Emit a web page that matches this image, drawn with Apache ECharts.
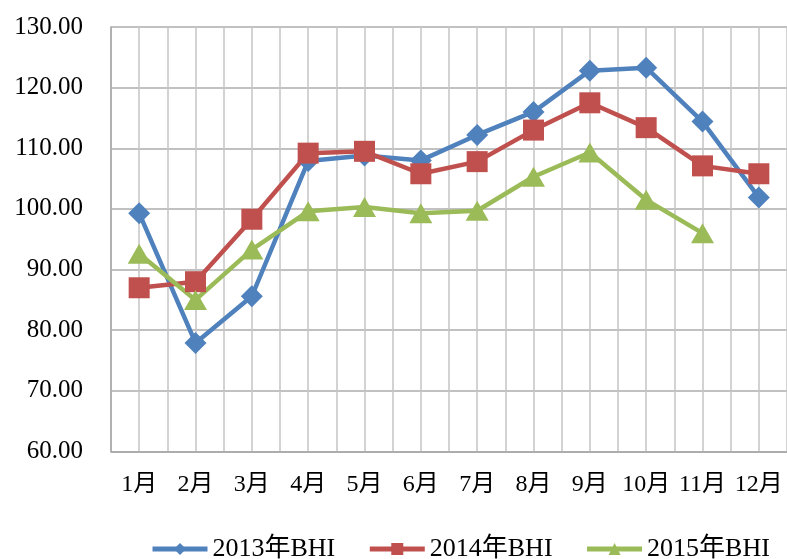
<!DOCTYPE html>
<html>
<head>
<meta charset="utf-8">
<script src="https://cdn.jsdelivr.net/npm/echarts@6/dist/echarts.min.js"></script>
<style>
  html, body { margin: 0; padding: 0; background: #fff; }
  #chart { width: 787px; height: 559px; }
</style>
</head>
<body>
<div id="chart"></div>
<script>
// 月份
const months = ['1月', '2月', '3月', '4月', '5月', '6月', '7月', '8月', '9月', '10月', '11月', '12月']
// 各年BHI指数
const bhi2013 = [99.3, 77.9, 85.6, 107.9, 108.8, 108.0, 112.2, 116.0, 122.8, 123.3, 114.4, 101.9]
const bhi2014 = [87.0, 88.0, 98.3, 109.2, 109.5, 105.8, 107.8, 113.0, 117.5, 113.4, 107.1, 105.8]
const bhi2015 = [92.6, 85.0, 93.3, 99.6, 100.3, 99.3, 99.7, 105.3, 109.3, 101.5, 96.0, null]
const seriesNames = ['2013年BHI', '2014年BHI', '2015年BHI']

const serif = '"Liberation Serif", "Times New Roman", "Noto Sans CJK SC", serif'

const chart = echarts.init(document.getElementById('chart'))

const option = {
  animation: false,
  backgroundColor: '#fff',
  color: ['#4F81BD', '#C0504D', '#9BBB59'],
  grid: { left: 111, top: 27, width: 679, height: 424.5, containLabel: false },
  legend: {
    top: 536,
    left: 150,
    itemWidth: 55,
    itemHeight: 15,
    itemGap: 32,
    padding: 0,
    lineStyle: { width: 5 },
    textStyle: { fontFamily: serif, fontSize: 26, color: '#000' },
    data: seriesNames
  },
  xAxis: [
    {
      type: 'category',
      data: months,
      boundaryGap: true,
      axisLine: { lineStyle: { color: '#A6A6A6', width: 1.5 } },
      axisTick: { show: false },
      splitLine: { show: false },
      axisLabel: { interval: 0, fontFamily: serif, fontSize: 24, color: '#000', margin: 21 }
    },
    {
      // 半格竖向网格线
      type: 'value',
      min: 0,
      max: 24,
      interval: 1,
      position: 'bottom',
      axisLine: { show: false },
      axisTick: { show: false },
      axisLabel: { show: false },
      splitLine: { show: true, lineStyle: { color: '#C4C4C4', width: 1.5 } }
    }
  ],
  yAxis: {
    type: 'value',
    min: 60,
    max: 130,
    interval: 10,
    axisLine: { show: true, lineStyle: { color: '#A6A6A6', width: 1.5 } },
    axisTick: { show: false },
    splitLine: { lineStyle: { color: '#ADADAD', width: 1.5 } },
    axisLabel: {
      fontFamily: serif, fontSize: 25, color: '#000', margin: 28,
      formatter: v => v.toFixed(2)
    }
  },
  series: [
    {
      name: seriesNames[0], type: 'line', data: bhi2013,
      symbol: 'diamond', symbolSize: 22,
      lineStyle: { width: 4.5 }
    },
    {
      name: seriesNames[1], type: 'line', data: bhi2014,
      symbol: 'rect', symbolSize: 21,
      lineStyle: { width: 4.5 }
    },
    {
      name: seriesNames[2], type: 'line', data: bhi2015,
      symbol: 'triangle', symbolSize: [23, 20],
      lineStyle: { width: 4.5 }
    }
  ]
}

chart.setOption(option)
</script>
</body>
</html>
